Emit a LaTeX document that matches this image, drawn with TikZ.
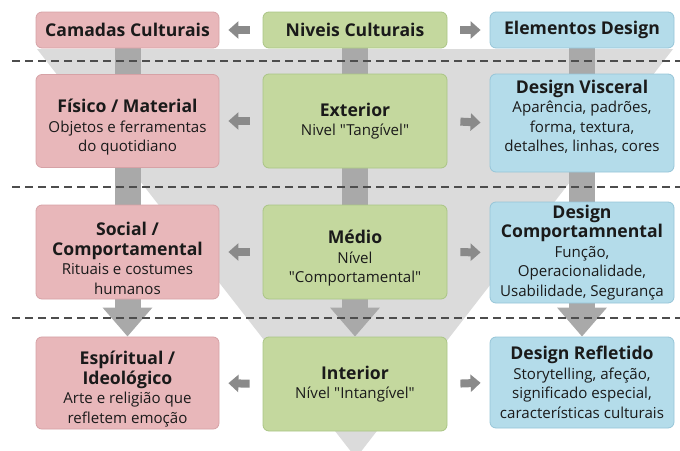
\documentclass[tikz,border=0pt]{standalone}
\usepackage{fontspec}
\setmainfont{Open Sans}[Ligatures=TeXOff]
\usetikzlibrary{arrows.meta,calc}
\definecolor{pinkf}{HTML}{E8B7BA}
\definecolor{pinkd}{HTML}{D6A2A6}
\definecolor{greenf}{HTML}{C4D89E}
\definecolor{greend}{HTML}{AAC585}
\definecolor{bluef}{HTML}{B4DCEA}
\definecolor{blued}{HTML}{96C5D8}
\definecolor{funnel}{HTML}{DBDBDB}
\definecolor{barc}{HTML}{A9A9A9}
\definecolor{arrc}{HTML}{8A8A8A}
\definecolor{dashc}{HTML}{4D4D4D}
\definecolor{txt}{HTML}{1A1A1A}
\pgfdeclarelayer{bg}
\pgfdeclarelayer{mid}
\pgfsetlayers{bg,mid,main}
\newcommand\ttl{\bfseries\fontsize{17.6}{20.5}\selectfont}
\newcommand\dn{\rule{0pt}{26pt}}
\newcommand\upr{\rule[-14pt]{0pt}{14pt}}
\tikzset{
  box/.style={rounded corners=6pt, line width=0.8pt, align=center, text=txt,
    inner sep=2pt, font=\fontsize{15.1}{19.5}\selectfont},
  pinkbox/.style={box, fill=pinkf, draw=pinkd, minimum width=183pt},
  greenbox/.style={box, fill=greenf, draw=greend, minimum width=184pt},
  bluebox/.style={box, fill=bluef, draw=blued, minimum width=184pt},
  bar/.style={draw=barc, line width=26pt},
  bararrow/.style={draw=barc, line width=26pt, -{Triangle[length=29pt,width=48pt]}},
  sidearrow/.style={draw=arrc, line width=8pt, -{Triangle[length=10pt,width=17pt]},
    shorten <=13pt, shorten >=9pt},
  dashline/.style={draw=dashc, line width=1.8pt, dash pattern=on 8pt off 5pt}
}
\begin{document}
\begin{tikzpicture}[x=1pt,y=-1pt]
\useasboundingbox (0,0) rectangle (680,450);

% nodes
\node[pinkbox, minimum height=36pt] (l1) at (127.5,30) {\ttl Camadas Culturais};
\node[greenbox, minimum height=36pt] (m1) at (355,30) {\ttl Niveis Culturais};
\node[bluebox, minimum height=36pt] (r1) at (582,30) {\ttl Elementos Design};

\node[pinkbox, minimum height=93pt] (l2) at (127.5,121) {{\ttl\dn Físico / Material}\\Objetos e ferramentas\\do quotidiano};
\node[greenbox, minimum height=94pt] (m2) at (355,121) {{\ttl Exterior}\\Nivel "Tangível"};
\node[bluebox, minimum height=98pt] (r2) at (582,123) {{\ttl Design Visceral}\\Aparência, padrões,\\forma, textura,\\detalhes, linhas, cores\upr};

\node[pinkbox, minimum height=94pt] (l3) at (127.5,252) {{\ttl\dn Social /}\\{\ttl Comportamental}\\Rituais e costumes\\humanos};
\node[greenbox, minimum height=94pt] (m3) at (355,252) {{\ttl\dn Médio}\\Nível\\"Comportamental"};
\node[bluebox, minimum height=101pt] (r3) at (582,252.5) {{\ttl Design}\\{\ttl Comportamnental}\\Função,\\Operacionalidade,\\Usabilidade, Segurança};

\node[pinkbox, minimum height=92pt] (l4) at (127.5,383) {{\ttl\dn Espíritual /}\\{\ttl Ideológico}\\Arte e religião que\\refletem emoção};
\node[greenbox, minimum height=94pt] (m4) at (355,384) {{\ttl Interior}\\Nível "Intangível"};
\node[bluebox, minimum height=91pt] (r4) at (582,382.5) {{\ttl Design Refletido}\\Storytelling, afeção,\\significado especial,\\características culturais};

% funnel background
\begin{pgfonlayer}{bg}
\fill[funnel] (37,49) -- (673,49) -- (356,458) -- cycle;
\end{pgfonlayer}

% vertical connectors and dashed separators
\begin{pgfonlayer}{mid}
\foreach \c in {l,m,r}{
  \draw[bar] (\c1.south) -- (\c2.north);
  \draw[bar] (\c2.south) -- (\c3.north);
  \draw[bararrow] (\c3.south) -- (\c4.north);
}
\draw[dashline] (12,61) -- (680,61);
\draw[dashline] (12,187) -- (680,187);
\draw[dashline] (12,318) -- (680,318);
\end{pgfonlayer}

% side arrows
\foreach \i in {1,2,3,4}{
  \draw[sidearrow] (m\i.west) -- (l\i.east);
  \draw[sidearrow] (m\i.east) -- (r\i.west);
}
\end{tikzpicture}
\end{document}
